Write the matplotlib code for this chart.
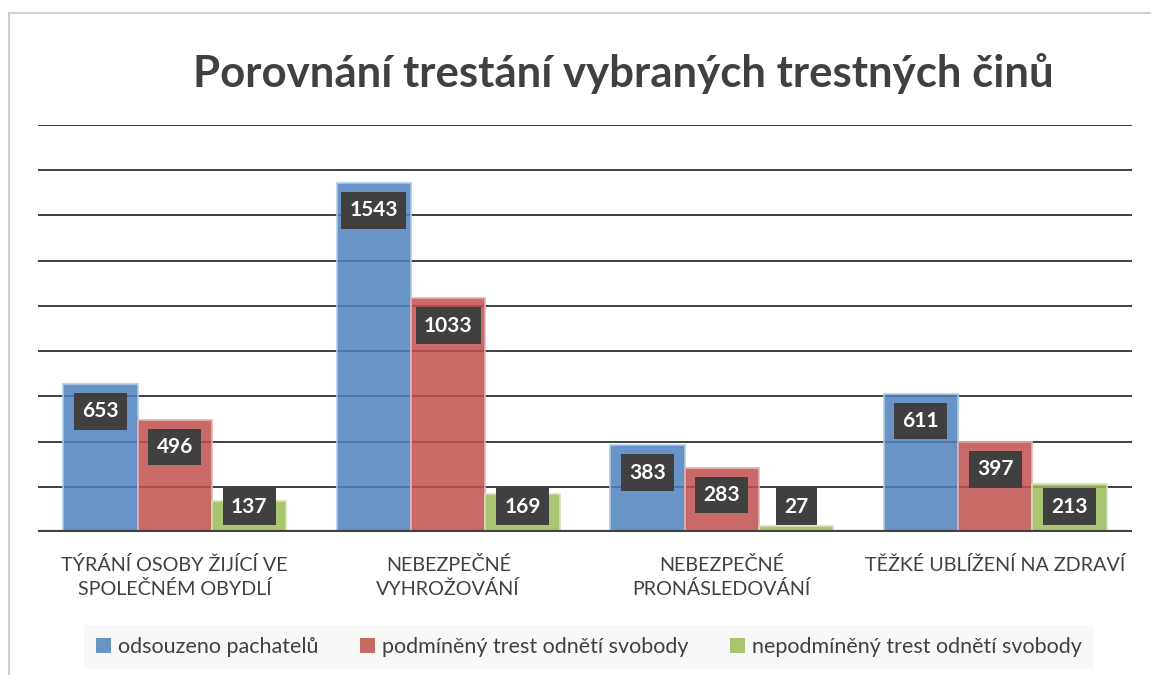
import matplotlib
matplotlib.use("Agg")
import matplotlib.pyplot as plt
import matplotlib.patches as mpatches
from matplotlib.lines import Line2D
import numpy as np

plt.rcParams['font.family'] = ['Lato', 'DejaVu Sans']

categories = ["TÝRÁNÍ OSOBY ŽIJÍCÍ VE\nSPOLEČNÉM OBYDLÍ",
              "NEBEZPEČNÉ\nVYHROŽOVÁNÍ",
              "NEBEZPEČNÉ\nPRONÁSLEDOVÁNÍ",
              "TĚŽKÉ UBLÍŽENÍ NA ZDRAVÍ"]
series_names = ["odsouzeno pachatelů",
                "podmíněný trest odnětí svobody",
                "nepodmíněný trest odnětí svobody"]
odsouzeno = [653, 1543, 383, 611]
podminene = [496, 1033, 283, 397]
nepodminene = [137, 169, 27, 213]
series = [odsouzeno, podminene, nepodminene]
colors = ["#4f81bd", "#c0504d", "#9bbb59"]

W, H = 1151, 675
fig = plt.figure(figsize=(W / 100, H / 100), dpi=100)
fig.patch.set_facecolor("white")

# outer chart border (top & left visible)
fig.add_artist(Line2D([9 / W, 1], [1 - 13 / H, 1 - 13 / H], color="#d0d0d0", lw=1.5))
fig.add_artist(Line2D([9 / W, 9 / W], [0, 1 - 13 / H], color="#d0d0d0", lw=1.5))

ax = fig.add_axes([38 / W, 1 - 532 / H, (1132 - 38) / W, (532 - 125) / H])
ax.set_xlim(-0.5, 3.5)
ax.set_ylim(0, 1800)
for s in ax.spines.values():
    s.set_visible(False)
ax.set_yticks(np.arange(200, 1801, 200))
ax.yaxis.grid(True, color="#404040", lw=1.4)
ax.set_axisbelow(True)
ax.tick_params(axis="y", length=0, labelleft=False)
ax.tick_params(axis="x", length=0, pad=17)
ax.axhline(0, color="#404040", lw=3, zorder=4)

x = np.arange(len(categories))
bw = 0.272
for i, (vals, c) in enumerate(zip(series, colors)):
    pos = x + (i - 1) * bw
    ax.bar(pos, vals, width=bw, color=c, alpha=0.85, edgecolor="white", linewidth=1.2, zorder=3)
    ax.bar(pos, vals, width=bw, fill=False, edgecolor=c, alpha=0.35, linewidth=1.5, zorder=3)
    for p, v in zip(pos, vals):
        ly = max(v - 120, 112)
        ax.text(p, ly, str(v), ha="center", va="center", color="white",
                fontsize=15, fontweight="bold", zorder=5,
                bbox=dict(boxstyle="square,pad=0.4", fc="#404040", ec="none"))

ax.set_xticks(x)
ax.set_xticklabels(categories, fontsize=14.2, color="#404040", linespacing=1.4)

fig.text(623 / W, 1 - 73 / H, "Porovnání trestání vybraných trestných činů",
         ha="center", va="center", fontsize=31.5, fontweight="bold", color="#404040")

handles = [mpatches.Patch(facecolor=c, alpha=0.85, edgecolor="none") for c in colors]
leg = fig.legend(handles, series_names, loc="center", bbox_to_anchor=(589 / W, 1 - 647 / H),
                 ncol=3, frameon=True, fancybox=False, fontsize=15.5,
                 handlelength=0.7, handleheight=0.7, handletextpad=0.35,
                 columnspacing=1.9, borderpad=0.55, labelcolor="#404040")
leg.get_frame().set_facecolor("#f7f7f7")
leg.get_frame().set_edgecolor("none")

fig.savefig("out.png", dpi=100)
